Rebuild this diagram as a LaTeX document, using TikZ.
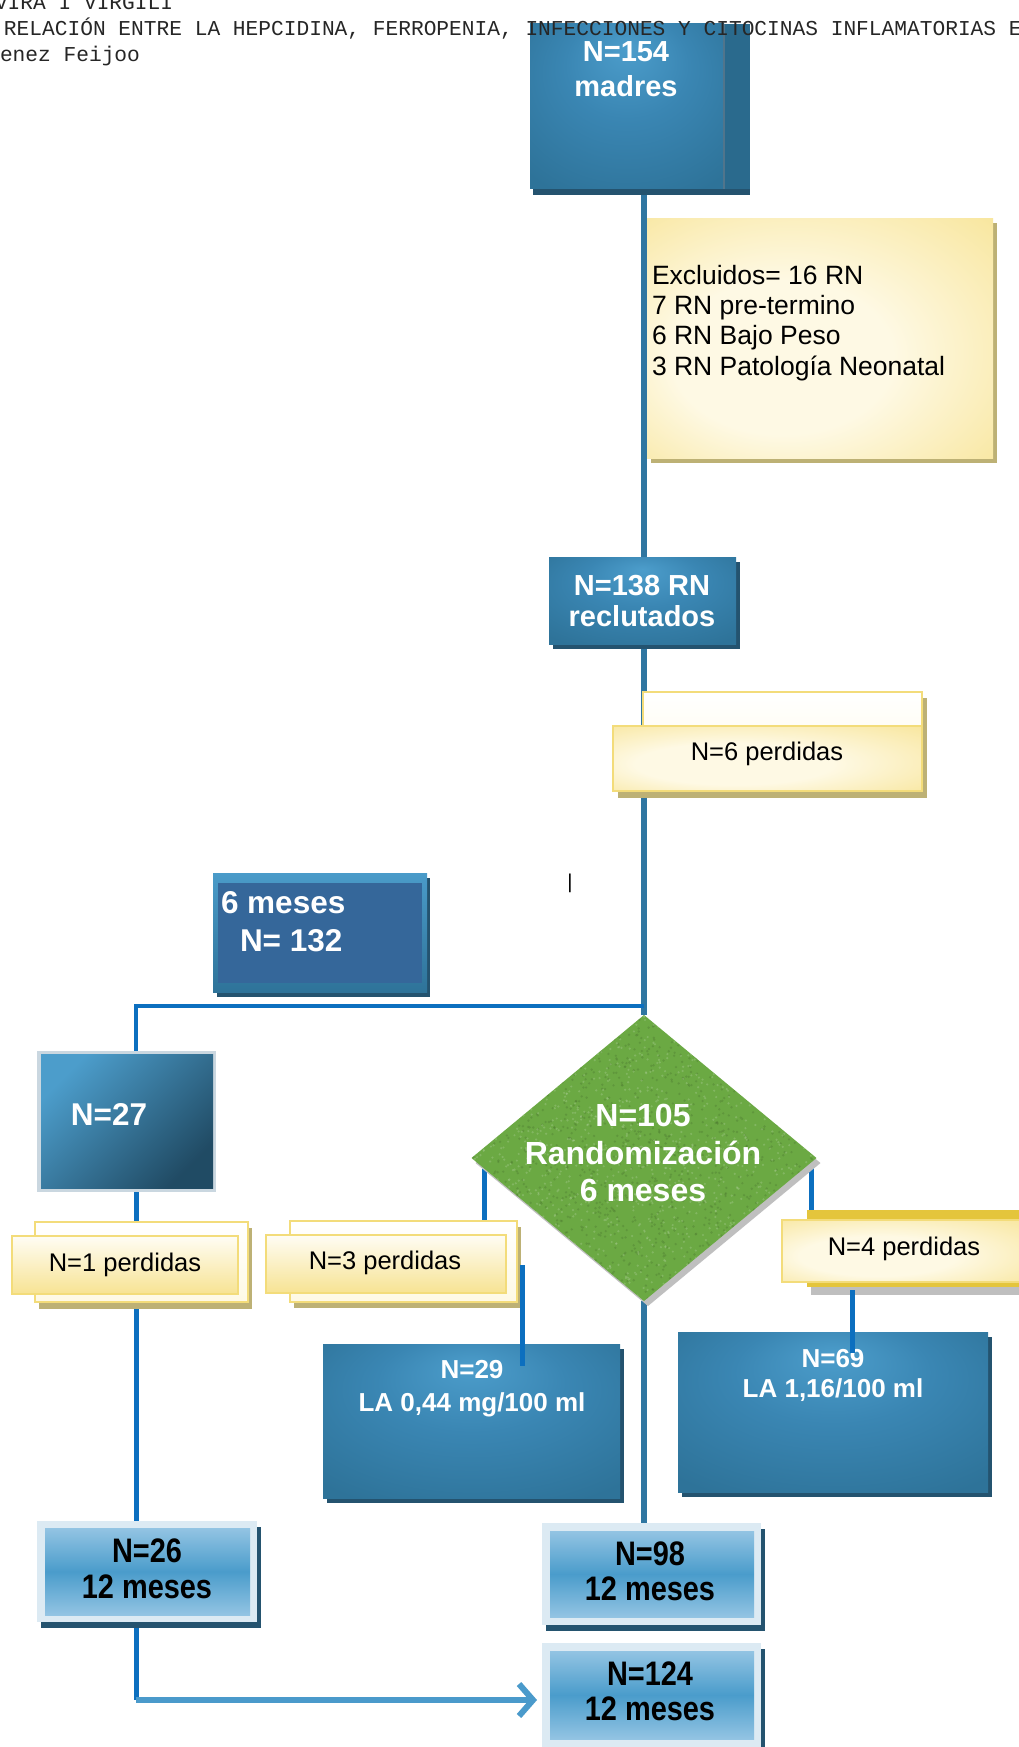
\documentclass[tikz,border=0pt]{standalone}
\usepackage{fontspec}
\setmainfont{Liberation Sans}
\newfontfamily\hdrfont{Liberation Mono}
\newfontfamily\narrowfont[FakeStretch=0.85]{Liberation Sans}
\usetikzlibrary{shapes.geometric,arrows.meta,calc}
\newcommand\fsz[1]{\fontsize{#1}{#1}\selectfont}
\definecolor{bxdark}{HTML}{2E7399}
\definecolor{bxmid}{HTML}{3A86B3}
\definecolor{bxlight}{HTML}{4C9DCB}
\definecolor{shdark}{HTML}{24536F}
\definecolor{ylight}{HTML}{FEF9E4}
\definecolor{ydark}{HTML}{F5DC78}
\definecolor{ybord}{HTML}{F3DC7A}
\definecolor{shyellow}{HTML}{BDB175}
\definecolor{trunkc}{HTML}{2F76A1}
\definecolor{brightc}{HTML}{0C6FBF}
\definecolor{arrowc}{HTML}{4A9ACB}
\definecolor{dgreen}{HTML}{6BA943}
\definecolor{lbord}{HTML}{DCEAF3}
\definecolor{lbtop}{HTML}{93C4E3}
\definecolor{lbmid}{HTML}{4A9CCB}
\definecolor{sixin}{HTML}{35679A}
\definecolor{sixtop}{HTML}{4A9BC9}
\definecolor{goldback}{HTML}{E4C53C}
\pgfdeclareradialshading{bluebox}{\pgfpoint{0bp}{18bp}}{color(0bp)=(bxlight); color(16bp)=(bxmid); color(36bp)=(bxdark); color(50bp)=(bxdark)}
\pgfdeclareradialshading{ylwbox}{\pgfpoint{-8bp}{-6bp}}{color(0bp)=(ylight); color(16bp)=(ylight); color(50bp)=(ydark)}
\begin{document}
\begin{tikzpicture}[x=1pt,y=-1pt,
  bx/.style={rectangle,inner sep=0pt,outer sep=0pt,anchor=north west,draw=none},
  shblue/.style={bx,fill=shdark},
  shyel/.style={bx,fill=shyellow},
  darkbox/.style={bx,shading=bluebox},
  ylwfront/.style={bx,shading=ylwbox,draw=ybord,line width=2.5pt},
  ylwvert/.style={bx,top color=ylight!40!white,bottom color=ydark!80!white,draw=ybord,line width=2.5pt},
  ylwback/.style={bx,top color=white,bottom color=ylight,draw=ybord,line width=2.5pt},
  lbin/.style={bx,top color=lbtop,bottom color=lbtop,middle color=lbmid},
  dshape/.style={diamond,inner sep=0pt,outer sep=0pt,minimum width=345pt,minimum height=286pt},
  txt/.style={inner sep=0pt,outer sep=0pt,anchor=base},
  wbold/.style={txt,text=white,font=\fsz{#1}\bfseries},
  bk/.style={txt,text=black,font=\fsz{#1}},
  nb/.style={txt,text=black,font=\narrowfont\fsz{#1}\bfseries},
  hdr/.style={txt,anchor=base west,text=black!85,font=\hdrfont\fsz{21.2}},
  trunk/.style={draw=trunkc,line width=6pt},
  bright/.style={draw=brightc,line width=5pt},
  arrowl/.style={draw=arrowc,line width=6pt,-{Straight Barb[length=14pt,width=32pt]},shorten >=5pt}
]
\useasboundingbox (0,0) rectangle (1019,1747);
\fill[white] (0,0) rectangle (1019,1747);
\clip (0,0) rectangle (1019,1747);

% ---------- named points ----------
\coordinate (tk) at (644,0);
\coordinate (lx) at (136,0);
\coordinate (j) at (644,1006);
\coordinate (c) at (136,1700);
\coordinate (a1) at (522,1265);
\coordinate (a2) at (522,1366);
\coordinate (b1) at (852,1290);
\coordinate (b2) at (852,1353);

% ---------- box geometry used by connectors ----------
\path
  node[bx,minimum width=194pt,minimum height=165pt] (n154) at (530,24) {}
  node[bx,minimum width=187pt,minimum height=87pt] (n138) at (549,557) {}
  node[bx,minimum width=179pt,minimum height=141pt] (n27o) at (37,1051) {}
  node[bx,minimum width=227pt,minimum height=81pt] (n3pb) at (290,1221) {}
  node[bx,minimum width=220pt,minimum height=77pt] (n4pb) at (807,1210) {}
  node[bx,minimum width=220pt,minimum height=101pt] (n26o) at (37,1521) {}
  node[bx,minimum width=219pt,minimum height=102pt] (n98o) at (542,1523) {}
  node[bx,minimum width=219pt,minimum height=120pt] (n124o) at (542,1643) {}
  node[dshape] (dia) at (644,1158) {};
\coordinate (dl) at ($(dia.west)!0.075!(dia.south)$);
\coordinate (dr) at ($(dia.east)!0.03!(dia.south)$);

% ---------- connectors behind boxes ----------
\draw[trunk] (n154.south -| tk) -- (n138.north -| tk);
\draw[trunk] (n138.south -| tk) -- (dia.north);
\draw[bright,line width=4.5pt] (j) -| (n27o.north -| lx);
\draw[bright] (n27o.south -| lx) -- (n26o.north -| lx);
\draw[bright] (n26o.south -| lx) -- (c);
\draw[arrowl] (c) -- (n124o.west |- c);
\draw[trunk] (dia.south) -- (n98o.north -| dia.south);
\draw[bright] (dl) -- (dl |- n3pb.north);
\draw[bright] (dr) -- (dr |- n4pb.north);

% ---------- N=154 ----------
\node[shblue,minimum width=217pt,minimum height=165pt] (n154s) at (533,30) {};
\node[bx,fill=bxdark!92!black,minimum width=210pt,minimum height=165pt] (n154b) at (540,24) {};
\node[darkbox,minimum width=194pt,minimum height=165pt] (n154f) at (530,24) {};
\draw[draw=shdark!80,line width=1.2pt] (n154f.north east) -- (n154f.south east);
\node[wbold=29] (t154a) at (626,62) {N=154};
\node[wbold=29] (t154b) at (626,97) {madres};

% ---------- excluded ----------
\node[shyel,minimum width=346pt,minimum height=240pt] (excs) at (651,223) {};
\node[bx,shading=ylwbox,minimum width=346pt,minimum height=240pt] (excf) at (647,218) {};
\node[bk=26.5,anchor=base west] (te1) at (652,284) {Excluidos= 16 RN};
\node[bk=26.5,anchor=base west] (te2) at (652,314) {7 RN pre-termino};
\node[bk=26.5,anchor=base west] (te3) at (652,344) {6 RN Bajo Peso};
\node[bk=26.5,anchor=base west] (te4) at (652,375) {3 RN Patología Neonatal};

% ---------- N=138 ----------
\node[shblue,minimum width=187pt,minimum height=87pt] (n138s) at (553,562) {};
\node[darkbox,minimum width=187pt,minimum height=87pt] (n138f) at (549,557) {};
\node[wbold=29] (t138a) at (642,595) {N=138 RN};
\node[wbold=29] (t138b) at (642,626) {reclutados};

% ---------- N=6 perdidas ----------
\node[shyel,minimum width=279pt,minimum height=99pt] (n6pbs) at (648,698) {};
\node[shyel,minimum width=309pt,minimum height=65pt] (n6pfs) at (618,733) {};
\node[ylwback,minimum width=279pt,minimum height=99pt] (n6pb) at (643,692) {};
\node[ylwfront,minimum width=309pt,minimum height=65pt] (n6p) at (613,726) {};
\node[bk=25.5] (t6p) at (767,760) {N=6 perdidas};

% ---------- cursor mark ----------
\node[bk=20] (cur) at (570,888) {|};

% ---------- 6 meses N=132 ----------
\node[shblue,minimum width=213pt,minimum height=119pt] (sixs) at (217,878) {};
\node[bx,top color=sixtop,bottom color=bxdark,minimum width=214pt,minimum height=119pt] (sixo) at (213,873) {};
\node[bx,fill=sixin,minimum width=204pt,minimum height=100pt] (sixi) at (218,883) {};
\node[wbold=31.5,anchor=base west] (tsa) at (221,913) {6 meses};
\node[wbold=31.5,anchor=base west] (tsb) at (240,951) {N= 132};

% ---------- N=27 ----------
\node[bx,fill=black!8!lbord,minimum width=179pt,minimum height=141pt] (n27b) at (37,1051) {};
\node[bx,top color=bxlight,bottom color=shdark!90!black,shading angle=45,minimum width=172pt,minimum height=134pt] (n27) at (41,1054) {};
\node[wbold=31.5] (t27) at (109,1125) {N=27};

% ---------- N=1 perdidas ----------
\node[shyel,minimum width=213pt,minimum height=81pt] (n1ps) at (39,1228) {};
\node[ylwback,minimum width=213pt,minimum height=80pt] (n1pb) at (35,1222) {};
\node[ylwvert,minimum width=226pt,minimum height=58pt] (n1p) at (12,1236) {};
\node[bk=25.5] (t1p) at (125,1271) {N=1 perdidas};

% ---------- N=3 perdidas ----------
\node[shyel,minimum width=227pt,minimum height=81pt] (n3ps) at (294,1227) {};
\node[ylwback,minimum width=227pt,minimum height=81pt] (n3pbb) at (290,1221) {};
\node[ylwvert,minimum width=240pt,minimum height=58pt] (n3p) at (266,1235) {};
\node[bk=25.5] (t3p) at (385,1269) {N=3 perdidas};

% ---------- diamond ----------
\node[dshape,fill=black!25] (dias) at (648,1163) {};
\node[dshape,fill=dgreen] (diaf) at (644,1158) {};
\begin{scope}
  \clip (diaf.north) -- (diaf.east) -- (diaf.south) -- (diaf.west) -- cycle;
  \pgfmathsetseed{7}
  \foreach \k in {1,...,1400}{
    \pgfmathsetmacro\px{471+345*rnd}
    \pgfmathsetmacro\py{1015+286*rnd}
    \fill[dgreen!70!black,opacity=0.35] (\px,\py) circle (1.3pt);
  }
  \foreach \k in {1,...,1400}{
    \pgfmathsetmacro\px{471+345*rnd}
    \pgfmathsetmacro\py{1015+286*rnd}
    \fill[dgreen!60!white,opacity=0.4] (\px,\py) circle (1.2pt);
  }
\end{scope}
\node[wbold=32] (td1) at (643,1126) {N=105};
\node[wbold=32] (td2) at (643,1164) {Randomización};
\node[wbold=32] (td3) at (643,1201) {6 meses};

% ---------- N=4 perdidas ----------
\node[bx,fill=black!25,minimum width=220pt,minimum height=78pt] (n4ps) at (811,1217) {};
\node[bx,fill=goldback,minimum width=220pt,minimum height=77pt] (n4pbb) at (807,1210) {};
\node[ylwfront,minimum width=245pt,minimum height=62pt] (n4p) at (782,1220) {};
\node[bk=25.5] (t4p) at (904,1255) {N=4 perdidas};

% ---------- N=29 ----------
\node[shblue,minimum width=297pt,minimum height=154pt] (n29s) at (327,1349) {};
\node[darkbox,minimum width=297pt,minimum height=154pt] (n29) at (323,1344) {};
\node[wbold=26] (t29a) at (472,1378) {N=29};
\node[wbold=26] (t29b) at (472,1411) {LA 0,44 mg/100 ml};

% ---------- N=69 ----------
\node[shblue,minimum width=310pt,minimum height=160pt] (n69s) at (682,1337) {};
\node[darkbox,minimum width=310pt,minimum height=160pt] (n69) at (678,1332) {};
\node[wbold=26] (t69a) at (833,1367) {N=69};
\node[wbold=26] (t69b) at (833,1397) {LA 1,16/100 ml};

% ---------- light-blue boxes ----------
\node[shblue,minimum width=220pt,minimum height=101pt] (n26s) at (41,1527) {};
\node[bx,fill=lbord,minimum width=220pt,minimum height=101pt] (n26b) at (37,1521) {};
\node[lbin,minimum width=205pt,minimum height=87pt] (n26) at (45,1528) {};
\node[nb=34] (t26a) at (147,1562) {N=26};
\node[nb=34] (t26b) at (147,1598) {12 meses};

\node[shblue,minimum width=219pt,minimum height=102pt] (n98s) at (546,1529) {};
\node[bx,fill=lbord,minimum width=219pt,minimum height=102pt] (n98b) at (542,1523) {};
\node[lbin,minimum width=204pt,minimum height=86pt] (n98) at (550,1531) {};
\node[nb=34] (t98a) at (650,1565) {N=98};
\node[nb=34] (t98b) at (650,1600) {12 meses};

\node[shblue,minimum width=219pt,minimum height=120pt] (n124s) at (546,1649) {};
\node[bx,fill=lbord,minimum width=219pt,minimum height=120pt] (n124b) at (542,1643) {};
\node[lbin,minimum width=204pt,minimum height=88pt] (n124) at (550,1651) {};
\node[nb=34] (t124a) at (650,1685) {N=124};
\node[nb=34] (t124b) at (650,1720) {12 meses};

% ---------- connectors drawn over boxes ----------
\draw[bright] (a1) -- (a2);
\draw[bright] (b1) -- (b2);

% ---------- page header ----------
\node[hdr] (h1) at (-5,10) {VIRA I VIRGILI};
\node[hdr] (h2) at (4,36) {RELACIÓN ENTRE LA HEPCIDINA, FERROPENIA, INFECCIONES Y CITOCINAS INFLAMATORIAS EN};
\node[hdr] (h3) at (0,62) {enez Feijoo};
\end{tikzpicture}
\end{document}
